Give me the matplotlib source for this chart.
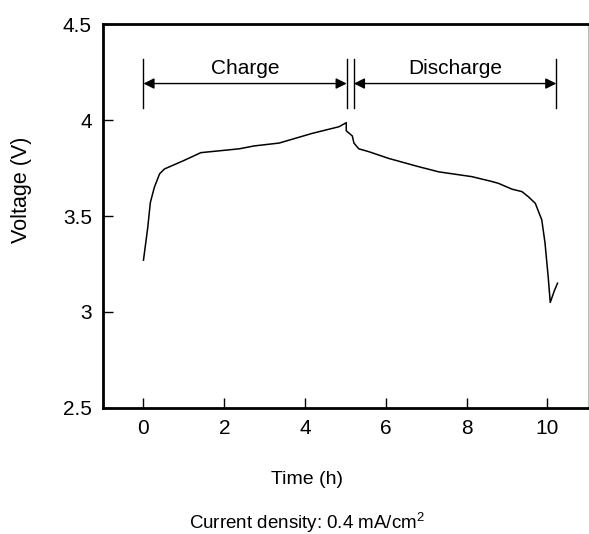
import matplotlib.pyplot as plt

plt.rcParams['font.family'] = ['Liberation Sans', 'DejaVu Sans']
plt.rcParams['mathtext.fontset'] = 'custom'
plt.rcParams['mathtext.rm'] = 'Liberation Sans'
plt.rcParams['mathtext.default'] = 'regular'

# Voltage profile
time_h = [0, 0.106, 0.17, 0.27, 0.40, 0.52, 1.01, 1.42, 2.37, 2.74, 3.36, 4.17, 4.84, 5.02,
          5.02, 5.17, 5.21, 5.33, 5.58, 6.07, 6.81, 7.31, 8.13, 8.62, 8.79, 9.12, 9.37,
          9.53, 9.70, 9.86, 9.94, 10.02, 10.07, 10.17, 10.25]
voltage = [3.27, 3.44, 3.57, 3.65, 3.72, 3.745, 3.79, 3.83, 3.85, 3.865, 3.88, 3.93, 3.965, 3.986,
           3.944, 3.917, 3.88, 3.85, 3.835, 3.80, 3.757, 3.73, 3.705, 3.68, 3.67, 3.64, 3.627,
           3.60, 3.566, 3.48, 3.36, 3.18, 3.05, 3.11, 3.15]

# step markers: (start, end, label)
steps = [(0, 5.03, 'Charge'), (5.21, 10.22, 'Discharge')]

x_ticks = [0, 2, 4, 6, 8, 10]
y_ticks = [2.5, 3, 3.5, 4, 4.5]
y_tick_labels = ['2.5', '3', '3.5', '4', '4.5']

fig = plt.figure(figsize=(5.89, 5.34), dpi=100)
ax = fig.add_axes([0.175, 0.236, 0.823, 0.719])

ax.plot(time_h, voltage, color='black', lw=1.1)

for start, end, label in steps:
    for xv in (start, end):
        ax.plot([xv, xv], [4.06, 4.32], color='black', lw=1)
    ax.annotate('', xy=(end, 4.19), xytext=(start, 4.19),
                arrowprops=dict(arrowstyle='<|-|>', color='black', lw=1,
                                mutation_scale=16, shrinkA=0, shrinkB=0))
    ax.text((start + end) / 2, 4.27, label, ha='center', va='center', fontsize=15)

ax.set_xlim(-1, 11)
ax.set_ylim(2.5, 4.5)
ax.set_xticks(x_ticks)
ax.set_yticks(y_ticks)
ax.set_yticklabels(y_tick_labels)
ax.tick_params(direction='in', length=7, width=1, labelsize=15, pad=8)

for side in ('left', 'bottom', 'top'):
    ax.spines[side].set_linewidth(2)
ax.spines['right'].set_color('#bbbbbb')
ax.spines['right'].set_linewidth(0.8)

fig.text(0.037, 1 - 190 / 534, 'Voltage (V)', rotation=90, ha='center', va='center', fontsize=15.5)
fig.text(0.522, 1 - 480 / 534, 'Time (h)', ha='center', va='center', fontsize=14)
fig.text(0.522, 1 - 523 / 534, r'Current density: 0.4 mA/cm$^{2}$', ha='center', va='center', fontsize=13.5)

fig.savefig('out.png', dpi=100)
